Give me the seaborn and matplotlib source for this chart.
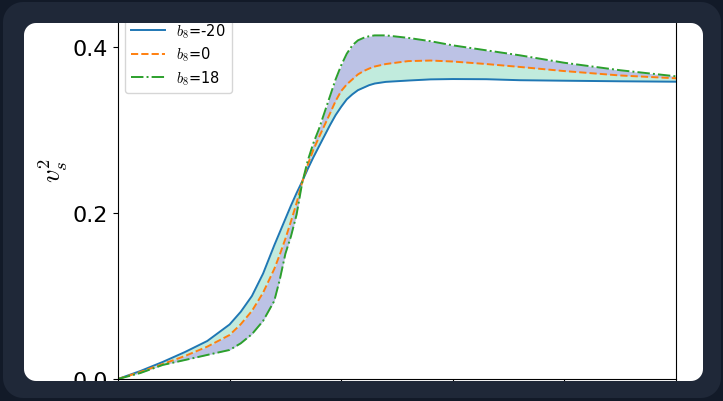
import numpy as np
import matplotlib
matplotlib.use('Agg')
import matplotlib.pyplot as plt
from matplotlib.path import Path
from matplotlib.patches import PathPatch
from matplotlib.transforms import Affine2D
import seaborn as sns

# squared sound speed vs x for three values of b8
x_vals = [0, 0.2, 0.4, 0.6, 0.8, 1.0, 1.1, 1.2, 1.3, 1.4, 1.45, 1.5, 1.55,
          1.6, 1.65, 1.7, 1.75, 1.8, 1.9, 1.95, 2.0, 2.05, 2.1, 2.15, 2.2,
          2.25, 2.3, 2.4, 2.6, 2.8, 3.0, 3.3, 3.6, 4.0, 4.5, 5.0]
cs2_b8_m20 = [0, 0.0096, 0.0205, 0.0325, 0.0458, 0.0657, 0.081, 0.100, 0.127,
              0.161, 0.177, 0.193, 0.209, 0.224, 0.238, 0.253, 0.267, 0.280,
              0.306, 0.318, 0.328, 0.337, 0.343, 0.348, 0.351, 0.354, 0.356,
              0.358, 0.3596, 0.361, 0.3614, 0.3612, 0.360, 0.3594, 0.3587,
              0.3582]
cs2_b8_0 = [0, 0.0084, 0.018, 0.0277, 0.039, 0.053, 0.066, 0.082, 0.104,
            0.1325, 0.150, 0.169, 0.190, 0.212, 0.237, 0.258, 0.276, 0.291,
            0.320, 0.335, 0.347, 0.355, 0.361, 0.367, 0.371, 0.374, 0.3765,
            0.3795, 0.383, 0.3837, 0.3825, 0.3795, 0.376, 0.371, 0.3657,
            0.3623]
cs2_b8_18 = [0, 0.0072, 0.0169, 0.0229, 0.029, 0.035, 0.043, 0.054, 0.070,
             0.094, 0.120, 0.151, 0.172, 0.198, 0.236, 0.263, 0.284, 0.301,
             0.341, 0.361, 0.378, 0.392, 0.402, 0.408, 0.411, 0.413, 0.414,
             0.414, 0.411, 0.407, 0.402, 0.396, 0.390, 0.381, 0.372, 0.3647]
labels = [r'$b_8$=-20', r'$b_8$=0', r'$b_8$=18']
y_ticks = [0.0, 0.2, 0.4]

plt.rcParams['mathtext.fontset'] = 'cm'

W, H = 723, 402
fig = plt.figure(figsize=(W / 100, H / 100), dpi=100, facecolor='white')
ax = fig.add_axes([118 / W, (H - 380) / H, (676 - 118) / W, (380 - 9) / H])

# shaded bands between the curves
ax.fill_between(x_vals, cs2_b8_m20, cs2_b8_0, color='mediumaquamarine',
                alpha=0.4, linewidth=0)
ax.fill_between(x_vals, cs2_b8_0, cs2_b8_18, color='#3f51b5',
                alpha=0.35, linewidth=0)

sns.lineplot(x=x_vals, y=cs2_b8_m20, ax=ax, color='C0', lw=1.4,
             linestyle='-', label=labels[0])
sns.lineplot(x=x_vals, y=cs2_b8_0, ax=ax, color='C1', lw=1.4,
             linestyle='--', label=labels[1])
sns.lineplot(x=x_vals, y=cs2_b8_18, ax=ax, color='C2', lw=1.4,
             linestyle='-.', label=labels[2])

ax.set_xlim(0, 5)
ax.set_ylim(0, 0.447)
ax.set_xticks(range(6))
ax.set_yticks(y_ticks)
ax.tick_params(labelsize=16, labelbottom=False)
ax.set_xlabel('')
ax.set_ylabel(r'$v_s^2$', fontsize=19)
ax.yaxis.set_label_coords(-0.086, 0.565)
ax.legend(loc='upper left', fontsize=10.5, labelspacing=0.35,
          handlelength=2.3)


# dark frame around the white card (screenshot look)
def rounded_box(x0, top, x1, bottom, r, n=12):
    yb0, yb1 = H - bottom, H - top
    corners = [(x1 - r, yb0 + r, -90), (x1 - r, yb1 - r, 0),
               (x0 + r, yb1 - r, 90), (x0 + r, yb0 + r, 180)]
    pts = []
    for cx, cy, a0 in corners:
        t = np.radians(np.linspace(a0, a0 + 90, n))
        pts += list(zip(cx + r * np.cos(t), cy + r * np.sin(t)))
    return pts


def add_mask(hole, color, z):
    outer = [(-5, -5), (W + 5, -5), (W + 5, H + 5), (-5, H + 5)]
    inner = hole[::-1]
    verts = outer + [outer[0]] + inner + [inner[0]]
    codes = ([Path.MOVETO] + [Path.LINETO] * 3 + [Path.CLOSEPOLY] +
             [Path.MOVETO] + [Path.LINETO] * (len(inner) - 1) + [Path.CLOSEPOLY])
    to_fig = Affine2D().scale(1 / W, 1 / H) + fig.transFigure
    fig.add_artist(PathPatch(Path(verts, codes), facecolor=color,
                             edgecolor='none', transform=to_fig, zorder=z))


add_mask(rounded_box(24, 24, 703, 382, 12), '#1f2838', 5)
add_mask(rounded_box(3, 3, 721, 399, 20), '#121a28', 6)

fig.savefig('out.png', dpi=100)
